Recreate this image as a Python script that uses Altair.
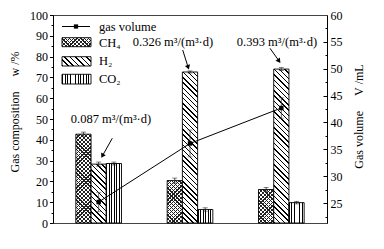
import math
import altair as alt
import pandas as pd

# ---------------- data ----------------
categories = ["CP", "Pt/C", "NiO-Y3"]
gases = ["CH4", "H2", "CO2"]
gas_labels = ["CH₄", "H₂", "CO₂"]
ch4 = [42.7, 20.4, 16.1]
ch4_err = [1.0, 1.2, 1.0]
h2 = [28.3, 72.6, 74.0]
h2_err = [1.0, 0.5, 0.7]
co2 = [28.6, 6.5, 9.8]
co2_err = [0.7, 0.8, 0.6]
gas_volume = [25.2, 36.1, 42.7]
gas_volume_err = [1.8, 2.5, 1.9]
rate_labels = ["0.087 m³/(m³·d)", "0.326 m³/(m³·d)", "0.393 m³/(m³·d)"]
NB = "\u00a0"
left_title = "Gas composition" + NB * 5 + "w" + NB + "/%"
right_title = "Gas volume" + NB * 5 + "V" + NB + "/mL"

# ---------------- layout ----------------
W, H = 274, 208
COMP_DOM = [0, 100]
VOL_DOM = [21.3, 60]
PAD_IN = 0.5
BW = (W / 3) * (1 - PAD_IN) / 3
FONT = "Liberation Serif"
TRANSPARENT = "rgba(0,0,0,0)"

comp_rows = []
for g, vals, errs in zip(gases, [ch4, h2, co2], [ch4_err, h2_err, co2_err]):
    for c, v, e in zip(categories, vals, errs):
        comp_rows.append(dict(category=c, gas=g, value=v, lo=v - e, hi=v + e))
comp_df = pd.DataFrame(comp_rows)
vol_df = pd.DataFrame(dict(
    category=categories,
    volume=gas_volume,
    lo=[v - e for v, e in zip(gas_volume, gas_volume_err)],
    hi=[v + e for v, e in zip(gas_volume, gas_volume_err)],
))


def stripes(w, h, kind, period, frac, ink="black", paper="white"):
    if kind == "v":
        x1, y1, x2, y2 = 0, 0, 1, 0
        n = w / period
    else:
        k = (w + h) * w / (w * w + h * h)
        n = (w + h) / (period * math.sqrt(2))
        if kind == "back":
            x1, y1, x2, y2 = 0, 1, k, 1 - k * h / w
        else:
            x1, y1, x2, y2 = 0, 0, k, k * h / w
    N = max(1, int(round(n)))
    stops = []
    for i in range(N):
        a, b, c = i / N, (i + frac) / N, (i + 1) / N
        stops += [
            alt.GradientStop(offset=round(a, 5), color=ink),
            alt.GradientStop(offset=round(b, 5), color=ink),
            alt.GradientStop(offset=round(b, 5), color=paper),
            alt.GradientStop(offset=round(c, 5), color=paper),
        ]
    return alt.LinearGradient(gradient="linear", stops=stops,
                              x1=x1, y1=y1, x2=x2, y2=y2)


def fills(g, w, h):
    if g == "CH4":
        return [stripes(w, h, "fwd", 2.7, 0.33, ink="#222"),
                stripes(w, h, "back", 2.7, 0.33, ink="#222", paper=TRANSPARENT)]
    if g == "H2":
        return [stripes(w, h, "back", 3.7, 0.28)]
    return [stripes(w, h, "v", 2.7, 0.36)]


# ---------------- encodings ----------------
x_axis = alt.Axis(title=None, labelFontSize=12.5, labelPadding=4, ticks=False,
                  tickSize=0, domainColor="black", labelColor="black", labelAngle=0,
                  labelFontWeight="normal")
x_scale = alt.Scale(domain=categories, paddingInner=PAD_IN, paddingOuter=PAD_IN / 2)
x_enc = alt.X("category:N", sort=categories, scale=x_scale, axis=x_axis)
x_enc_noaxis = alt.X("category:N", sort=categories, scale=x_scale, axis=None)
xo_enc = alt.XOffset("gas:N", sort=gases,
                     scale=alt.Scale(domain=gases, paddingInner=0, paddingOuter=0))

left_axis = alt.Axis(
    orient="left", title=left_title,
    values=list(range(0, 101, 5)),
    labelExpr="datum.value % 10 === 0 ? datum.label : ''",
    tickSize={"condition": {"test": "datum.value % 10 === 0", "value": 3.5}, "value": 2},
    labelPadding=2, grid=False, domainColor="black", tickColor="black",
    titleX=-39, titleY=96.5, titleAngle=270, titleBaseline="middle", titleAlign="center",
)
comp_scale = alt.Scale(domain=COMP_DOM, nice=False, zero=False)

right_axis = alt.Axis(
    orient="right", title=right_title,
    values=list(range(25, 61, 5)), tickSize=0, labelPadding=3, grid=False,
    domainColor="black", titleX=31, titleY=101, titleAngle=270,
    titleBaseline="middle", titleAlign="center",
)
vol_scale = alt.Scale(domain=VOL_DOM, nice=False, zero=False)

inner_tick_axis = alt.Axis(
    orient="left", offset=-W, title=None, labels=False, domain=False, grid=False,
    values=[v / 2 for v in range(45, 116, 5)],
    tickSize={"condition": {"test": "datum.value % 5 === 0", "value": 4}, "value": 2},
    tickColor="black",
)

# ---------------- composition layer ----------------
comp_layers = []
for g, vals in zip(gases, [ch4, h2, co2]):
    for c, v in zip(categories, vals):
        hpx = v / (COMP_DOM[1] - COMP_DOM[0]) * H
        base = alt.Chart(comp_df).transform_filter(
            (alt.datum.category == c) & (alt.datum.gas == g))
        fl = fills(g, BW, hpx)
        for i, f in enumerate(fl):
            last = i == len(fl) - 1
            mk = base.mark_bar(fill=f, stroke="black" if last else TRANSPARENT,
                               strokeWidth=0.9)
            comp_layers.append(mk.encode(
                x=x_enc, xOffset=xo_enc,
                y=alt.Y("value:Q", scale=comp_scale, axis=left_axis)))

err_base = alt.Chart(comp_df)
comp_layers.append(err_base.mark_rule(color="#222", strokeWidth=0.8).encode(
    x=x_enc, xOffset=xo_enc,
    y=alt.Y("lo:Q", scale=comp_scale, axis=left_axis), y2="hi:Q"))
for fld in ["lo", "hi"]:
    comp_layers.append(err_base.mark_tick(color="#222", size=5, thickness=0.8).encode(
        x=x_enc, xOffset=xo_enc,
        y=alt.Y(f"{fld}:Q", scale=comp_scale, axis=left_axis)))

one = alt.Data(values=[{}])

# annotations: rate labels and arrows (pixel offsets inside the plot area)
text_pos = [(58, 104), (120, 27), (224, 27)]
arrows = [((59.3, 123.3), (48, 143.3)), ((129.7, 35), (136, 55)), ((217, 33.3), (227.7, 48.3))]
for lab, (tx, ty), ((sx, sy), (ex, ey)) in zip(rate_labels, text_pos, arrows):
    comp_layers.append(alt.Chart(one).mark_text(
        text=lab, font=FONT, fontSize=12.5, color="black", align="center",
        baseline="middle").encode(x=alt.value(tx), y=alt.value(ty)))
    dx, dy = ex - sx, ey - sy
    L = math.hypot(dx, dy)
    ux, uy = dx / L, dy / L
    comp_layers.append(alt.Chart(one).mark_rule(color="black", strokeWidth=1).encode(
        x=alt.value(sx), y=alt.value(sy),
        x2=alt.value(ex - 4 * ux), y2=alt.value(ey - 4 * uy)))
    ang = math.degrees(math.atan2(ux, -uy)) % 360
    comp_layers.append(alt.Chart(one).mark_point(
        shape="triangle-up", filled=True, color="black", size=28, angle=ang, opacity=1
    ).encode(x=alt.value(ex - 2.8 * ux), y=alt.value(ey - 2.8 * uy)))

# legend (drawn inside the plot, top-left)
comp_layers.append(alt.Chart(one).mark_rule(color="black", strokeWidth=1).encode(
    x=alt.value(9), x2=alt.value(37), y=alt.value(11.5)))
comp_layers.append(alt.Chart(one).mark_square(color="black", size=18, opacity=1).encode(
    x=alt.value(23), y=alt.value(11.5)))
legend_text_y = [11.5, 28, 46, 64]
for lab, yy in zip(["gas volume"] + gas_labels, legend_text_y):
    comp_layers.append(alt.Chart(one).mark_text(
        text=lab, font=FONT, fontSize=12.5, color="black", align="left",
        baseline="middle").encode(x=alt.value(46), y=alt.value(yy)))
swatch_y = [(22.7, 31.7), (41.7, 51), (59.3, 69)]
for g, (y0, y1) in zip(gases, swatch_y):
    fl = fills(g, 29, y1 - y0)
    for i, f in enumerate(fl):
        last = i == len(fl) - 1
        comp_layers.append(alt.Chart(one).mark_rect(
            fill=f, stroke="black" if last else TRANSPARENT, strokeWidth=0.9
        ).encode(x=alt.value(9), x2=alt.value(38), y=alt.value(y0), y2=alt.value(y1)))

comp_chart = alt.layer(*comp_layers)

# ---------------- gas volume layer ----------------
vb = alt.Chart(vol_df)
vol_chart = alt.layer(
    vb.mark_line(color="black", strokeWidth=1).encode(
        x=x_enc_noaxis, y=alt.Y("volume:Q", scale=vol_scale, axis=right_axis)),
    vb.mark_rule(color="#444", strokeWidth=0.8).encode(
        x=x_enc_noaxis, y=alt.Y("lo:Q", scale=vol_scale, axis=right_axis), y2="hi:Q"),
    vb.mark_tick(color="#444", size=5, thickness=0.8).encode(
        x=x_enc_noaxis, y=alt.Y("lo:Q", scale=vol_scale, axis=right_axis)),
    vb.mark_tick(color="#444", size=5, thickness=0.8).encode(
        x=x_enc_noaxis, y=alt.Y("hi:Q", scale=vol_scale, axis=right_axis)),
    vb.mark_square(color="black", size=20, opacity=1).encode(
        x=x_enc_noaxis, y=alt.Y("volume:Q", scale=vol_scale, axis=right_axis)),
)

tick_chart = vb.mark_point(opacity=0).encode(
    x=x_enc_noaxis, y=alt.Y("volume:Q", scale=vol_scale, axis=inner_tick_axis))

chart = alt.layer(comp_chart, vol_chart, tick_chart).resolve_scale(
    y="independent"
).properties(
    width=W, height=H,
    autosize=alt.AutoSizeParams(type="none"),
    padding={"left": 53, "top": 15, "right": 384 - 53 - W, "bottom": 249 - 15 - H},
).configure(
    font=FONT, background="white",
).configure_view(
    stroke="#444", strokeWidth=1,
).configure_axis(
    labelFont=FONT, titleFont=FONT, labelFontSize=12, titleFontSize=12,
    titleFontWeight="normal", labelColor="black", titleColor="black",
    domainColor="black", tickColor="black", grid=False,
)

chart.save("out.html", embed_options={"renderer": "svg", "actions": False})
